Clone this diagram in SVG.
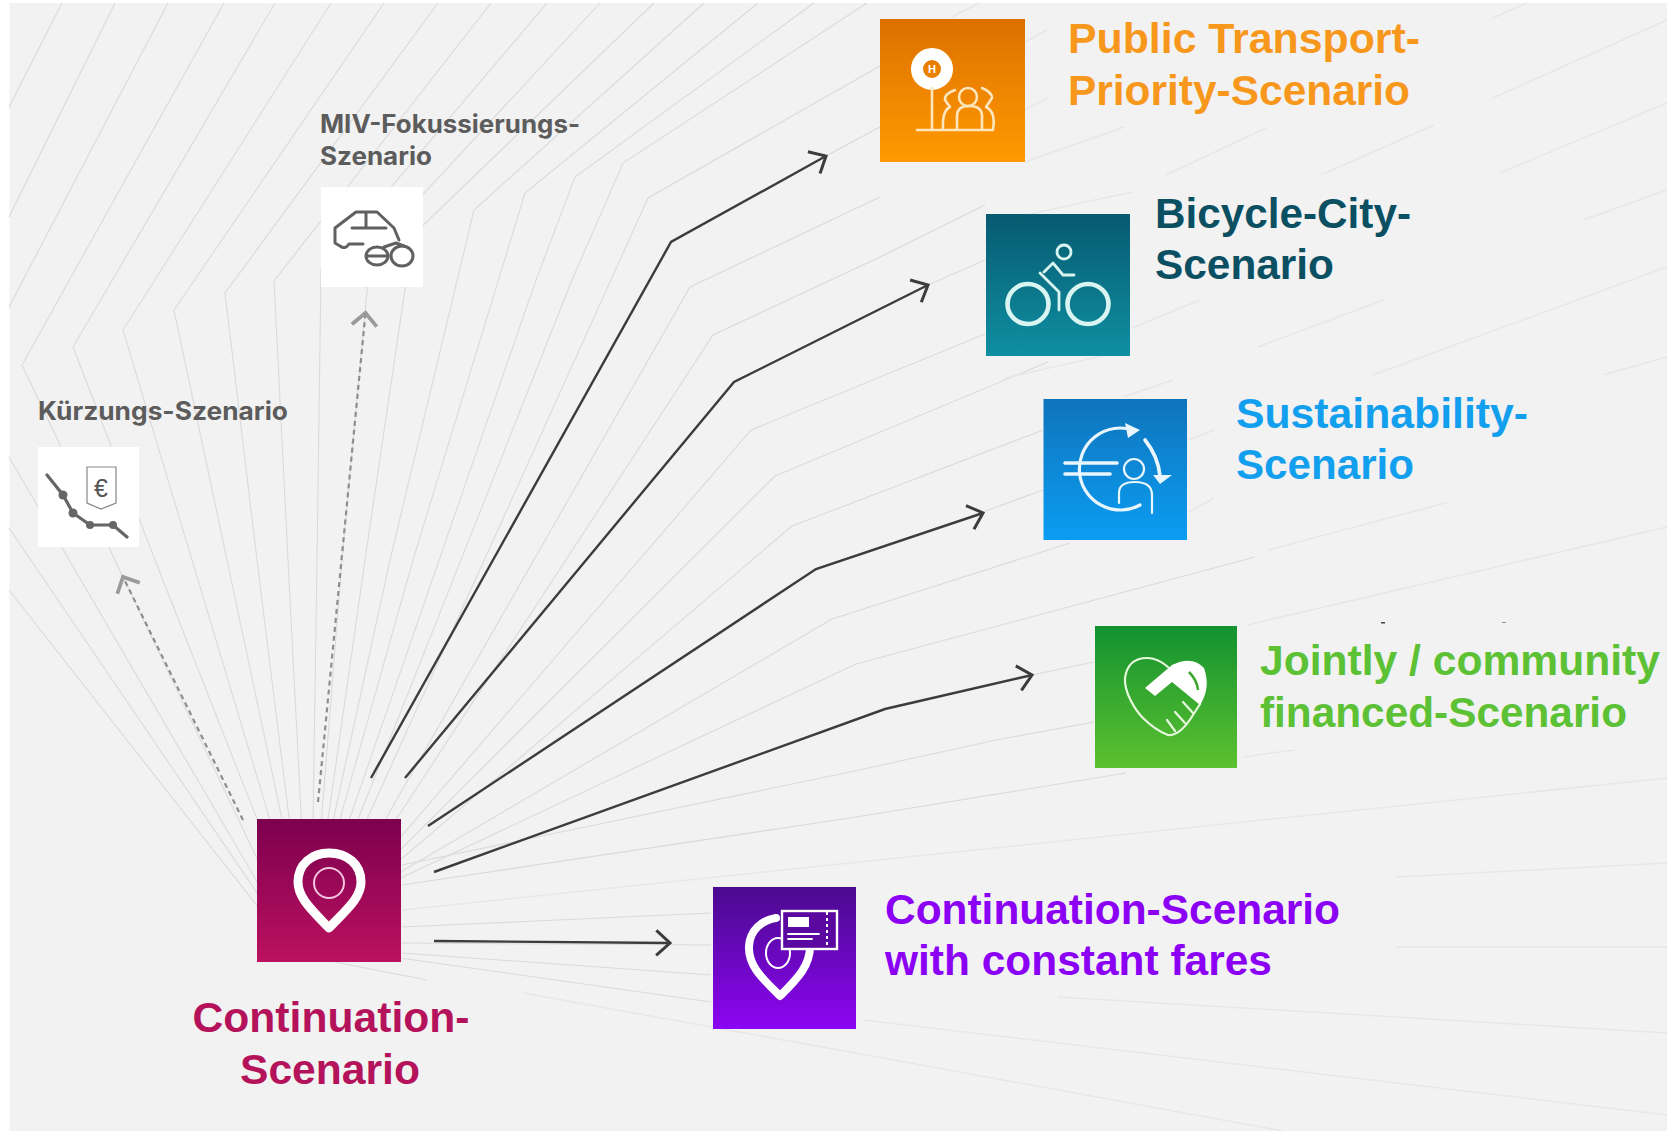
<svg xmlns="http://www.w3.org/2000/svg" width="1667" height="1131" viewBox="0 0 1667 1131">
<style>
.fan{fill:none;stroke:#dadada;stroke-width:1.1}
.far{fill:none;stroke:#e7e7e7;stroke-width:1.5}
.main{fill:none;stroke:#3c3c3c;stroke-width:2.4;marker-end:url(#open)}
.alt{fill:none;stroke:#8e8e8e;stroke-width:2.2;stroke-dasharray:5 4;marker-end:url(#openGrey)}
.big{font-family:"Liberation Sans",Arial,sans-serif;font-weight:700;font-size:42px}
.small{font-family:Inter,"Liberation Sans",sans-serif;font-weight:700;font-size:25px;fill:#5c5c5c}
.ico{fill:none;stroke:#fff;stroke-linecap:round;stroke-linejoin:round}
.grey{fill:none;stroke:#606060;stroke-width:3;stroke-linecap:round;stroke-linejoin:round}
</style>
<defs>
<marker id="open" markerUnits="userSpaceOnUse" markerWidth="30" markerHeight="30" refX="16" refY="12" orient="auto" viewBox="0 0 20 24"><path d="M5,2 L16,12 L5,22" fill="none" stroke="#3c3c3c" stroke-width="2.4"/></marker>
<marker id="openGrey" markerUnits="userSpaceOnUse" markerWidth="30" markerHeight="30" refX="16" refY="12" orient="auto" viewBox="0 0 20 24"><path d="M6,2 L16,12 L6,22" fill="none" stroke="#9a9a9a" stroke-width="3"/></marker>
<linearGradient id="gO" x1="0" y1="0" x2="0" y2="1"><stop offset="0" stop-color="#de7000"/><stop offset="1" stop-color="#ff9a00"/></linearGradient>
<linearGradient id="gT" x1="0" y1="0" x2="0" y2="1"><stop offset="0" stop-color="#075a70"/><stop offset="1" stop-color="#0f8fa2"/></linearGradient>
<linearGradient id="gB" x1="0" y1="0" x2="0" y2="1"><stop offset="0" stop-color="#0f74bc"/><stop offset="1" stop-color="#0b9df2"/></linearGradient>
<linearGradient id="gG" x1="0" y1="0" x2="0" y2="1"><stop offset="0" stop-color="#12922f"/><stop offset="1" stop-color="#5dc130"/></linearGradient>
<linearGradient id="gM" x1="0" y1="0" x2="0" y2="1"><stop offset="0" stop-color="#7c004e"/><stop offset="1" stop-color="#bb1160"/></linearGradient>
<linearGradient id="gP" x1="0" y1="0" x2="0" y2="1"><stop offset="0" stop-color="#4a0a8e"/><stop offset="1" stop-color="#8c05f2"/></linearGradient>
</defs>
<rect width="1667" height="1131" fill="#fff"/>
<rect x="9.5" y="3" width="1658" height="1128" fill="#f2f2f2"/>
<g id="background-fan">
<polyline class="fan" points="9,590 262,912"/>
<polyline class="fan" points="9,528 262,900"/>
<polyline class="fan" points="9,457 262,890"/>
<polyline class="fan" points="9,107 62,3"/>
<polyline class="fan" points="9,217 115,3"/>
<polyline class="fan" points="9,307 168,3"/>
<polyline class="fan" points="224,3 22,365 272,890"/>
<polyline class="fan" points="275,3 73,347 155,560 285,890"/>
<polyline class="fan" points="331,3 123,330 192,560 291,890"/>
<polyline class="fan" points="384,3 174,310 227,560 297,890"/>
<polyline class="fan" points="438,3 225,293 257,560 298,890"/>
<polyline class="fan" points="491,3 274,281 288,560 305,890"/>
<polyline class="fan" points="547,3 321,270 317,560 312,890"/>
<polyline class="fan" points="600,3 367,255 368,280 342,560 316,890"/>
<polyline class="fan" points="654,3 413,235 365,560 318,890"/>
<polyline class="fan" points="704,3 474,210 390,560 318,890"/>
<polyline class="fan" points="758,3 525,193 413,560 320,890"/>
<polyline class="fan" points="814,3 575,177 536,280 325,890"/>
<polyline class="fan" points="867,3 623,163 572,280 330,890"/>
<polyline class="fan" points="880,66 648,198 335,890"/>
<polyline class="fan" points="880,127 826,156"/>
<polyline class="fan" points="880,197 690,287 345,890"/>
<polyline class="fan" points="985,205 880,257 713,335 350,890"/>
<polyline class="fan" points="928,285 985,260"/>
<polyline class="fan" points="985,334 751,430 355,890"/>
<polyline class="fan" points="1048,362 775,476 360,890"/>
<polyline class="fan" points="1043,430 792,526 365,890"/>
<polyline class="fan" points="983,512 1043,490"/>
<polyline class="fan" points="1070,543 832,619 370,890"/>
<polyline class="fan" points="1255,557 1020,620 856,664 375,890"/>
<polyline class="fan" points="1032,675 1094,662"/>
<polyline class="fan" points="1094,722 996,740 850,772 402,865"/>
<polyline class="fan" points="1126,773 850,818 402,885"/>
<polyline class="far" points="1667,778 850,863 402,910"/>
<polyline class="fan" points="402,927 711,913"/>
<polyline class="fan" points="402,943 711,945"/>
<polyline class="fan" points="402,953 711,975"/>
<polyline class="fan" points="400,958 711,1002"/>
<polyline class="fan" points="335,962 427,980"/>
<polyline class="far" points="523,993 850,1052 1283,1131"/>
<polyline class="far" points="863,1020 1667,1115"/>
<polyline class="far" points="1058,997 1667,1033"/>
<polyline class="far" points="1397,947 1667,947"/>
<polyline class="far" points="1397,877 1667,863"/>
<polyline class="far" points="1243,757 1295,750"/>
<polyline class="far" points="1247,625 1667,527"/>
<polyline class="far" points="1268,550 1449,502"/>
<polyline class="far" points="1373,375 1667,267"/>
<polyline class="far" points="1603,375 1667,357"/>
<polyline class="far" points="1132,328 1200,300"/>
<polyline class="far" points="1258,347 1384,300"/>
<polyline class="far" points="1583,220 1667,190"/>
<polyline class="far" points="1500,173 1667,103"/>
<polyline class="far" points="1493,98 1667,20"/>
<polyline class="far" points="1493,18 1527,3"/>
<polyline class="far" points="1321,175 1434,125"/>
<polyline class="far" points="1166,175 1266,128"/>
<polyline class="far" points="1025,162 1124,127"/>
<polyline class="far" points="1002,220 1132,192"/>
<polyline class="far" points="1005,378 1128,350"/>
<polyline class="far" points="1025,110 1047,98"/>
<polyline class="far" points="1025,42 1047,30"/>
<polyline class="far" points="952,17 979,3"/>
<polyline class="far" points="1123,397 1173,380"/>
<polyline class="far" points="1189,440 1214,430"/>
<polyline class="far" points="1189,512 1214,498"/>
<rect x="1381" y="622" width="4" height="1.5" fill="#444"/>
<rect x="1502" y="622" width="4" height="1" fill="#999"/>
</g>
<g id="connectors">
<polyline class="main" points="371,778 671,242 826,156"/>
<polyline class="main" points="405,778 734,382 928,285"/>
<polyline class="main" points="428,826 816,569 983,513"/>
<polyline class="main" points="434,872 885,709 1032,675"/>
<polyline class="main" points="434,941 670,943"/>
<polyline class="alt" points="243,820 123,577"/>
<polyline class="alt" points="318,802 365.5,313"/>
</g>
<g id="node-public-transport">
<rect x="880" y="19" width="145" height="143" fill="url(#gO)"/>
<g class="ico" style="stroke:#fde6bd" stroke-width="2.6">
<circle cx="932" cy="69" r="15" stroke="#fff" stroke-width="12"/>
<path d="M932,88 V130 M917,130 H993"/>
<circle cx="968" cy="97" r="9"/>
<path d="M957,129 V116 Q957,106 969,106 Q982,106 982,116 V129"/>
<path d="M955,90 Q944,94 945,100 L950,107 Q942,111 943,129"/>
<path d="M982,88 Q992,92 992,98 L986,107 Q996,112 993,129"/>
</g>
<text x="932" y="73" font-family="Liberation Sans,sans-serif" font-weight="700" font-size="11" text-anchor="middle" fill="#fff">H</text>
</g>
<g id="label-public-transport" class="big" fill="#f7981d">
<text x="1068" y="53" textLength="352" lengthAdjust="spacingAndGlyphs">Public Transport-</text>
<text x="1068" y="105" textLength="342" lengthAdjust="spacingAndGlyphs">Priority-Scenario</text>
</g>
<g id="node-bicycle-city">
<rect x="986" y="214" width="144" height="142" fill="url(#gT)"/>
<g class="ico" style="stroke:#d9f5f2">
<ellipse cx="1028" cy="304" rx="20.5" ry="20" stroke-width="4.6"/>
<ellipse cx="1088" cy="304" rx="20.5" ry="20" stroke-width="4.6"/>
<circle cx="1064" cy="252" r="7" stroke-width="2.8"/>
<path d="M1040,273 L1059,292 V310 M1044,272 L1053,263 L1063,275 H1074" stroke-width="2.8"/>
</g>
</g>
<g id="label-bicycle-city" class="big" fill="#0b4f63">
<text x="1155" y="228" textLength="256" lengthAdjust="spacingAndGlyphs">Bicycle-City-</text>
<text x="1155" y="279" textLength="179" lengthAdjust="spacingAndGlyphs">Scenario</text>
</g>
<g id="node-sustainability">
<rect x="1043.5" y="399" width="143.5" height="141" fill="url(#gB)"/>
<g class="ico" style="stroke:#eaf6fe">
<path d="M1133,430 A41,41 0 1 0 1140,505" stroke-width="3.2"/>
<path d="M1145,440 Q1158,456 1160,476" stroke-width="3.6"/>
<path d="M1065,463 H1117 M1065,474 H1110" stroke-width="3.6"/>
<circle cx="1134" cy="469" r="10" stroke-width="2.2"/>
<path d="M1119,503 V493 Q1119,482 1135,482 Q1152,482 1152,495 V513" stroke-width="2.2"/>
</g>
<path d="M1125,423 L1140,430 L1128,438 Z M1153,475 L1172,475 L1160,484 Z" fill="#eaf6fe"/>
</g>
<g id="label-sustainability" class="big" fill="#12a0ee">
<text x="1236" y="428" textLength="292" lengthAdjust="spacingAndGlyphs">Sustainability-</text>
<text x="1236" y="479" textLength="178" lengthAdjust="spacingAndGlyphs">Scenario</text>
</g>
<g id="node-jointly">
<rect x="1095" y="626" width="142" height="142" fill="url(#gG)"/>
<path class="ico" style="stroke:#e6f8dc" stroke-width="2.2" d="M1168,667 C1160,660 1152,658 1147,658 C1135,658 1127,664 1125,678 C1124,692 1135,710 1143,718 C1152,727 1160,732 1168,735 C1176,736 1185,728 1193,715 L1200,704"/>
<path d="M1145,688 L1172,665 Q1192,655 1204,668 Q1211,688 1200,705 L1172,682 L1155,696 Z" fill="#fff"/>
<path d="M1189,672 Q1197,680 1198,690" fill="none" stroke="#3aa82f" stroke-width="2.5"/>
<path class="ico" style="stroke:#e6f8dc" stroke-width="2.2" d="M1183,702 L1193,713 M1175,712 L1185,723 M1167,720 L1175,731"/>
</g>
<g id="label-jointly" class="big" fill="#5cc134">
<text x="1260" y="675" textLength="400" lengthAdjust="spacingAndGlyphs">Jointly / community</text>
<text x="1260" y="727" textLength="367" lengthAdjust="spacingAndGlyphs">financed-Scenario</text>
</g>
<g id="node-continuation-fares">
<rect x="713" y="887" width="143" height="142" fill="url(#gP)"/>
<path class="ico" d="M780,996 C762,978 748,966 749,946 C750,930 762,920 776,918 M810,944 C811,966 796,980 780,996" stroke-width="8"/>
<ellipse class="ico" cx="778" cy="953" rx="12" ry="15" stroke-width="2"/>
<rect x="782" y="911" width="55" height="38" fill="#5a089f" stroke="#fff" stroke-width="2.4"/>
<rect x="788" y="917" width="21" height="10" fill="#fff"/>
<path class="ico" d="M788,934 H819 M788,939 H812" stroke-width="1.8"/>
<path d="M827,912 V948" fill="none" stroke="#fff" stroke-width="2" stroke-dasharray="3 3"/>
</g>
<g id="label-continuation-fares" class="big" fill="#8b00f5">
<text x="885" y="924" textLength="455" lengthAdjust="spacingAndGlyphs">Continuation-Scenario</text>
<text x="885" y="975" textLength="387" lengthAdjust="spacingAndGlyphs">with constant fares</text>
</g>
<g id="node-continuation">
<rect x="257" y="819" width="144" height="143" fill="url(#gM)"/>
<path class="ico" d="M329,928 C312,910 298,898 298,882 C298,864 312,853 329,853 C347,853 361,864 361,882 C361,898 346,910 329,928 Z" stroke-width="9"/>
<ellipse cx="329" cy="883" rx="15" ry="15" fill="none" stroke="#f5c6e0" stroke-width="2"/>
</g>
<g id="label-continuation" class="big" fill="#b5125c" text-anchor="middle">
<text x="331" y="1032" textLength="277" lengthAdjust="spacingAndGlyphs">Continuation-</text>
<text x="330" y="1084" textLength="180" lengthAdjust="spacingAndGlyphs">Scenario</text>
</g>
<g id="node-miv">
<rect x="321" y="187" width="102" height="100" fill="#fff"/>
<path class="grey" d="M363,244 H349 Q345,250 340,246 L335,243 V228 L356,212 H377 L394,228 L399,240 M366,212 V227 M352,228 H386"/>
<ellipse cx="377" cy="256" rx="11" ry="9" class="grey" stroke-width="2"/>
<ellipse cx="402" cy="256" rx="11" ry="10" class="grey" stroke-width="2"/>
<path class="grey" d="M368,256 H388 M384,247 L396,243 L404,246" stroke-width="2"/>
</g>
<g id="label-miv" class="small">
<text x="320" y="133" textLength="260" lengthAdjust="spacingAndGlyphs">MIV-Fokussierungs-</text>
<text x="320" y="165" textLength="112" lengthAdjust="spacingAndGlyphs">Szenario</text>
</g>
<g id="node-kuerzung">
<rect x="38" y="447" width="101" height="100" fill="#fff"/>
<path d="M47,475 L63,495 L73,513 L90,525 H113 L127,537" fill="none" stroke="#666" stroke-width="3.2" stroke-linecap="round"/>
<circle cx="63" cy="495" r="4.5" fill="#666"/><circle cx="73" cy="513" r="4.5" fill="#666"/><circle cx="90" cy="525" r="4" fill="#666"/><circle cx="113" cy="525" r="4" fill="#666"/>
<path d="M87,467 H116 V503 L101,509 L87,503 Z" fill="none" stroke="#888" stroke-width="1.2"/>
<text x="101" y="497" font-family="Liberation Sans,sans-serif" font-size="25" text-anchor="middle" fill="#555">€</text>
</g>
<g id="label-kuerzung" class="small">
<text x="38" y="420" textLength="250" lengthAdjust="spacingAndGlyphs">Kürzungs-Szenario</text>
</g>
</svg>
